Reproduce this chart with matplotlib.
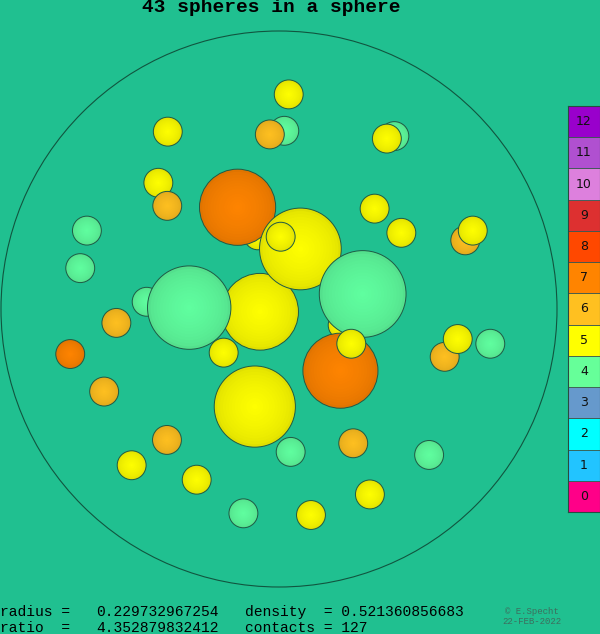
import matplotlib
matplotlib.use("Agg")
import matplotlib.pyplot as plt
from matplotlib.patches import Circle
import numpy as np

# ---- data (unit sphere coordinates, drawing order back -> front) ----
xs = [0.035, -0.400, 0.019, -0.033, 0.415, 0.388, -0.434, -0.402,
      -0.076, 0.227, -0.476,
      0.344, 0.440, 0.670, 0.697, -0.691, -0.715,
      -0.585, -0.751, -0.629, 0.596, 0.643, 0.760,
      -0.403, 0.042, 0.267, 0.540, -0.530, -0.296, 0.327, -0.128, 0.115,
      -0.068, -0.323, -0.149, 0.077, 0.006, 0.301, 0.221, 0.260, -0.199, -0.087]
ys = [0.772, 0.638, 0.641, 0.628, 0.622, 0.613, 0.454, 0.371,
      0.263, -0.058, 0.026,
      0.361, 0.274, 0.247, 0.282, 0.282, 0.147,
      -0.050, -0.162, -0.297, -0.172, -0.108, -0.125,
      -0.471, -0.514, -0.483, -0.525, -0.562, -0.614, -0.667, -0.735, -0.741,
      -0.010, 0.005, 0.366, 0.216, 0.260, 0.054, -0.222, -0.125, -0.157, -0.351]
rs = [0.052, 0.052, 0.052, 0.052, 0.052, 0.052, 0.052, 0.052,
      0.050, 0.050, 0.052,
      0.052, 0.052, 0.052, 0.052, 0.052, 0.052,
      0.052, 0.052, 0.052, 0.052, 0.052, 0.052,
      0.052, 0.052, 0.052, 0.052, 0.052, 0.052, 0.052, 0.052, 0.052,
      0.138, 0.150, 0.137, 0.147, 0.052, 0.156, 0.135, 0.052, 0.052, 0.146]
contacts = [5, 5, 4, 6, 4, 5, 5, 6,
            5, 5, 4,
            5, 5, 6, 5, 4, 4,
            6, 7, 6, 6, 5, 4,
            6, 4, 6, 4, 5, 5, 5, 4, 5,
            5, 4, 7, 5, 5, 4, 7, 5, 5, 5]

levels = list(range(13))
level_colors = ['#FF0088', '#22C4FF', '#00FFFF', '#6699CC', '#66FF99', '#FFFF00',
                '#FFC020', '#FF8400', '#FF4800', '#DD3030', '#DD80DD', '#B050D0', '#9900CC']
circle_colors = {4: '#60FFA0', 5: '#FFFF00', 6: '#FFC020', 7: '#FF8400'}

title = "43 spheres in a sphere"
info_labels = ["radius =", "ratio  ="]
info_values = ["0.229732967254", "4.352879832412"]
info_right = ["density  = 0.521360856683", "contacts = 127"]

bg = '#20C090'
fig = plt.figure(figsize=(6, 6.34), dpi=100)
fig.patch.set_facecolor(bg)

ax = fig.add_axes([1/600, 47/634, 556/600, 556/634])
ax.set_xlim(-1, 1)
ax.set_ylim(-1, 1)
ax.set_aspect('equal')
ax.axis('off')
ax.set_facecolor(bg)

ax.add_patch(Circle((0, 0), 1.0, fill=False, edgecolor='#11553f', lw=0.8, clip_on=False))

def shade(hexcol, f):
    c = np.array(matplotlib.colors.to_rgb(hexcol))
    return tuple(np.clip(c * f, 0, 1))

nlayers = 14
for x, y, r, c in zip(xs, ys, rs, contacts):
    base = circle_colors[c]
    for k in range(nlayers):
        t = k / nlayers
        rr = r * (1 - t)
        f = 0.88 + 0.12 * (t ** 0.6)
        ax.add_patch(Circle((x, y), rr, facecolor=shade(base, f), edgecolor='none', lw=0))
    ax.add_patch(Circle((x, y), r, fill=False, edgecolor='#1f5a45', lw=0.7))

# colorbar
cax = fig.add_axes([568/600, (634-512)/634, 32/600, 406/634])
cax.barh(levels, [1]*len(levels), height=1.0, left=0, color=level_colors,
         edgecolor='#3a5a50', linewidth=0.6)
cax.set_xlim(0, 1)
cax.set_ylim(-0.5, 12.5)
for lv in levels:
    cax.text(0.5, lv, str(lv), ha='center', va='center', fontsize=9,
             family='DejaVu Sans', color='#111111')
cax.set_xticks([])
cax.set_yticks([])
for s in cax.spines.values():
    s.set_color('#2a4a40')
    s.set_linewidth(0.8)

fig.text(271/600, 1 - 8/634, title, ha='center', va='center',
         family='Liberation Mono', weight='bold', fontsize=14, color='black')

for i in range(2):
    yy = 1 - (612 + 15.5 * i) / 634
    fig.text(0/600, yy, info_labels[i], ha='left', va='center',
             family='Liberation Mono', fontsize=10.5, color='black')
    fig.text(96/600, yy, info_values[i], ha='left', va='center',
             family='Liberation Mono', fontsize=10.5, color='black')
    fig.text(245/600, yy, info_right[i], ha='left', va='center',
             family='Liberation Mono', fontsize=10.5, color='black')

fig.text(532/600, 1 - 611.5/634, "© E.Specht", ha='center', va='center',
         family='Liberation Mono', fontsize=6.5, color='#3d6e5e')
fig.text(532/600, 1 - 622/634, "22-FEB-2022", ha='center', va='center',
         family='Liberation Mono', fontsize=6.5, color='#3d6e5e')

fig.savefig('out.png', dpi=100, facecolor=bg)
